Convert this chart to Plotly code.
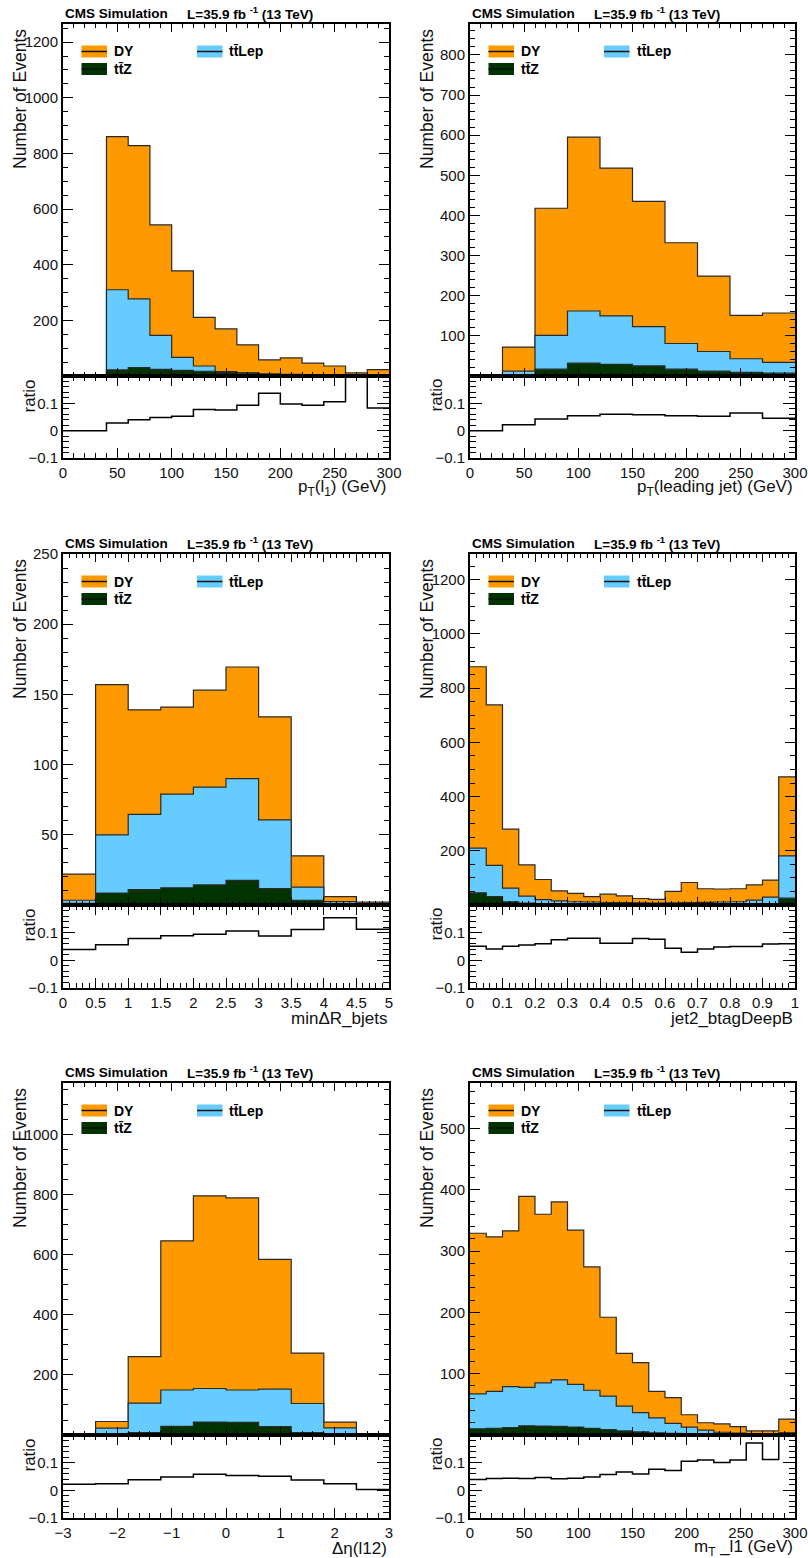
import plotly.graph_objects as go

# ---------------- data ----------------
# Panel 1: pT(l1)
p1_edges = [0, 20, 40, 60, 80, 100, 120, 140, 160, 180, 200, 220, 240, 260, 280, 300]
p1_total = [0, 0, 860, 828, 543, 378, 211, 169, 112, 58, 65, 46, 36, 11, 23]
p1_ttlep_ttz = [0, 0, 310, 277, 146, 67, 36, 16, 11, 7, 6, 5, 4, 2, 3]
p1_ttz = [0, 0, 22, 30, 24, 20, 17, 12, 10, 7, 5, 4, 3, 1, 2]
p1_ratio = [0, 0, 0.028, 0.040, 0.048, 0.053, 0.077, 0.076, 0.093, 0.137, 0.098, 0.093, 0.106, 0.35, 0.083]

# Panel 2: pT(leading jet)
p2_edges = [0, 30, 60, 90, 120, 150, 180, 210, 240, 270, 300]
p2_total = [0, 72, 418, 595, 518, 435, 332, 249, 151, 157]
p2_ttlep_ttz = [0, 12, 101, 162, 150, 123, 81, 61, 43, 34]
p2_ttz = [0, 2, 17, 32, 29, 25, 17, 12, 9, 7]
p2_ratio = [0, 0.022, 0.043, 0.055, 0.060, 0.058, 0.055, 0.053, 0.065, 0.045]

# Panel 3: min dR bjets
p3_edges = [0, 0.5, 1.0, 1.5, 2.0, 2.5, 3.0, 3.5, 4.0, 4.5, 5.0]
p3_total = [22, 157, 139, 141, 153, 169.5, 134, 35, 6, 2]
p3_ttlep_ttz = [3.4, 50, 64.5, 79, 84, 90, 60.6, 12.8, 2.4, 0.7]
p3_ttz = [1.2, 8.5, 10.9, 12.3, 14.3, 17.6, 11.6, 3.4, 1.0, 0.3]
p3_ratio = [0.039, 0.056, 0.079, 0.089, 0.094, 0.106, 0.088, 0.111, 0.154, 0.112]

# Panel 4: jet2_btagDeepB
p4_edges = [0, 0.05, 0.1, 0.15, 0.2, 0.25, 0.3, 0.35, 0.4, 0.45, 0.5,
            0.55, 0.6, 0.65, 0.7, 0.75, 0.8, 0.85, 0.9, 0.95, 1.0]
p4_total = [879, 738, 280, 148, 94, 52, 43, 31, 40, 34, 24, 21, 50, 83, 60, 59, 60, 74, 92, 473]
p4_ttlep_ttz = [210, 146, 62, 33, 20, 15, 12, 11, 9, 9, 8, 7, 8, 9, 10, 11, 12, 18, 29, 181]
p4_ttz = [45, 31, 12, 7, 5, 4, 3, 3, 2, 2, 2, 2, 1, 1, 1, 1, 2, 2, 5, 25]
p4_ratio = [0.051, 0.041, 0.051, 0.055, 0.060, 0.074, 0.080, 0.080, 0.062, 0.062,
            0.079, 0.076, 0.044, 0.029, 0.041, 0.048, 0.050, 0.050, 0.059, 0.060]

# Panel 5: delta eta(l12)
p5_edges = [-3.0, -2.4, -1.8, -1.2, -0.6, 0.0, 0.6, 1.2, 1.8, 2.4, 3.0]
p5_total = [0, 45, 261, 647, 797, 790, 585, 273, 43, 0]
p5_ttlep_ttz = [0, 23, 106, 150, 155, 150, 153, 105, 24, 0]
p5_ttz = [0, 1, 8, 29, 43, 42, 28, 8, 1, 0]
p5_ratio = [0.022, 0.024, 0.038, 0.048, 0.058, 0.054, 0.051, 0.037, 0.024, 0.003]

# Panel 6: mT_l1
p6_edges = [0, 15, 30, 45, 60, 75, 90, 105, 120, 135, 150, 165, 180, 195, 210,
            225, 240, 255, 270, 285, 300]
p6_total = [329, 323, 333, 389, 360, 380, 334, 274, 192, 133, 118, 71, 61, 33, 20, 18, 13.5, 6.7, 6.7, 26]
p6_ttlep_ttz = [67, 71, 79, 77.5, 85, 90, 82.6, 73, 63.5, 47, 36.5, 28, 19, 13, 8, 4.5, 3, 1.7, 1.1, 3.4]
p6_ttz = [10, 11, 12, 15, 14.6, 14, 13, 10.7, 9, 6.7, 5, 3.4, 2.8, 2.2, 2, 1.5, 1.2, 1, 0.7, 3]
p6_ratio = [0.039, 0.043, 0.044, 0.043, 0.046, 0.042, 0.044, 0.048, 0.057, 0.066,
            0.059, 0.076, 0.072, 0.105, 0.110, 0.101, 0.110, 0.171, 0.111, 0.35]

x_titles = ["p<sub>T</sub>(l<sub>1</sub>) (GeV)", "p<sub>T</sub>(leading jet) (GeV)",
            "minΔR_bjets", "jet2_btagDeepB", "Δη(l12)", "m<sub>T</sub> _l1 (GeV)"]
legend_labels = ["DY", "tt\u0304Lep", "tt\u0304Z"]

# ---------------- styling / layout ----------------
W, H = 808, 1558
FONT = "Liberation Sans, Arial, Helvetica, sans-serif"
C_DY, C_TTLEP, C_TTZ = "#FF9900", "#66CCFF", "#003300"
OUTLINE = "#2a2a2a"

cols = [(63, 389), (470, 795)]
rows = [(24, 376, 458), (554, 905, 988), (1083, 1435, 1518)]

cfg = [
    dict(e=p1_edges, t=p1_total, l=p1_ttlep_ttz, z=p1_ttz, r=p1_ratio, ymax=1265,
         yt=[200, 400, 600, 800, 1000, 1200], ymin=50, xr=[0, 300], xd=50, xm=10, x0=0),
    dict(e=p2_edges, t=p2_total, l=p2_ttlep_ttz, z=p2_ttz, r=p2_ratio, ymax=877,
         yt=[100, 200, 300, 400, 500, 600, 700, 800], ymin=20, xr=[0, 300], xd=50, xm=10, x0=0),
    dict(e=p3_edges, t=p3_total, l=p3_ttlep_ttz, z=p3_ttz, r=p3_ratio, ymax=250,
         yt=[50, 100, 150, 200, 250], ymin=10, xr=[0, 5], xd=0.5, xm=0.1, x0=0),
    dict(e=p4_edges, t=p4_total, l=p4_ttlep_ttz, z=p4_ttz, r=p4_ratio, ymax=1295,
         yt=[200, 400, 600, 800, 1000, 1200], ymin=50, xr=[0, 1], xd=0.1, xm=0.02, x0=0),
    dict(e=p5_edges, t=p5_total, l=p5_ttlep_ttz, z=p5_ttz, r=p5_ratio, ymax=1173,
         yt=[200, 400, 600, 800, 1000], ymin=50, xr=[-3, 3], xd=1, xm=0.2, x0=-3),
    dict(e=p6_edges, t=p6_total, l=p6_ttlep_ttz, z=p6_ttz, r=p6_ratio, ymax=574,
         yt=[100, 200, 300, 400, 500], ymin=20, xr=[0, 300], xd=50, xm=10, x0=0),
]


def fx(p):
    return p / W


def fy(p):
    return 1 - p / H


fig = go.Figure()
layout = dict(template="none", width=W, height=H,
              margin=dict(l=0, r=0, t=0, b=0, pad=0, autoexpand=False),
              paper_bgcolor="white", plot_bgcolor="white", showlegend=False,
              font=dict(family=FONT, color="black"))
annotations = []
shapes = []
tickfont = dict(family=FONT, size=15, color="#111111")

for i, c in enumerate(cfg):
    col = cols[i % 2]
    row = rows[i // 2]
    L, R = col
    T, M, B = row
    im, ir = 2 * i + 1, 2 * i + 2
    xm_name, xr_name = f"x{im}", f"x{ir}"
    ym_name, yr_name = f"y{im}", f"y{ir}"

    edges = c["e"]
    for vals, color in ((c["t"], C_DY), (c["l"], C_TTLEP), (c["z"], C_TTZ)):
        fig.add_trace(go.Scatter(
            x=edges, y=list(vals) + [vals[-1]], mode="lines",
            line=dict(shape="hv", color=OUTLINE, width=1.2),
            fill="tozeroy", fillcolor=color, hoverinfo="skip",
            xaxis=xm_name, yaxis=ym_name))
    fig.add_trace(go.Scatter(
        x=edges, y=list(c["r"]) + [c["r"][-1]], mode="lines",
        line=dict(shape="hv", color="black", width=1.5), hoverinfo="skip",
        xaxis=xr_name, yaxis=yr_name))

    common = dict(showgrid=False, zeroline=False, showline=True, linewidth=2,
                  linecolor="black", mirror="allticks", ticks="inside",
                  tickcolor="black", tickwidth=1, automargin=False,
                  ticklabeloverflow="allow")
    layout[f"xaxis{im}"] = dict(common, domain=[fx(L), fx(R)], anchor=ym_name,
                                range=c["xr"], tick0=c["x0"], dtick=c["xd"], ticklen=8,
                                showticklabels=False,
                                minor=dict(ticks="inside", ticklen=4, tick0=c["x0"],
                                           dtick=c["xm"], tickcolor="black", showgrid=False))
    layout[f"yaxis{im}"] = dict(common, domain=[fy(M), fy(T)], anchor=xm_name,
                                range=[0, c["ymax"]], tickmode="array", tickvals=c["yt"],
                                ticklen=10, tickfont=tickfont,
                                minor=dict(ticks="inside", ticklen=5, tickmode="linear",
                                           tick0=0, dtick=c["ymin"], tickcolor="black",
                                           showgrid=False))
    layout[f"xaxis{ir}"] = dict(common, domain=[fx(L), fx(R)], anchor=yr_name,
                                range=c["xr"], tick0=c["x0"], dtick=c["xd"], ticklen=10,
                                tickfont=tickfont,
                                minor=dict(ticks="inside", ticklen=5, tick0=c["x0"],
                                           dtick=c["xm"], tickcolor="black", showgrid=False))
    layout[f"yaxis{ir}"] = dict(common, domain=[fy(B), fy(M)], anchor=xr_name,
                                range=[-0.1, 0.2], tickmode="array",
                                tickvals=[-0.1, 0, 0.1], ticktext=["\u22120.1", "0", "0.1"],
                                ticklen=12, tickfont=tickfont,
                                minor=dict(ticks="inside", ticklen=6, tickmode="linear",
                                           tick0=0, dtick=0.02, tickcolor="black",
                                           showgrid=False))

    # header
    annotations.append(dict(x=fx(L), y=fy(T - 11), xref="paper", yref="paper",
                            text="<b>CMS Simulation</b>", showarrow=False,
                            xanchor="left", yanchor="middle",
                            font=dict(family=FONT, size=13.5, color="black")))
    annotations.append(dict(x=fx(L + 122), y=fy(T - 11), xref="paper", yref="paper",
                            text="<b>L=35.9 fb <sup>-1</sup> (13 TeV)</b>", showarrow=False,
                            xanchor="left", yanchor="middle",
                            font=dict(family=FONT, size=13.5, color="black")))
    # axis titles
    annotations.append(dict(x=fx(L - 43), y=fy(T + 3), xref="paper", yref="paper",
                            text="Number of Events", textangle=-90, showarrow=False,
                            xanchor="center", yanchor="top",
                            font=dict(family=FONT, size=17.5, color="#111111")))
    annotations.append(dict(x=fx(L - 34), y=fy(M + 1), xref="paper", yref="paper",
                            text="ratio", textangle=-90, showarrow=False,
                            xanchor="center", yanchor="top",
                            font=dict(family=FONT, size=17, color="#111111")))
    annotations.append(dict(x=fx(R), y=fy(B + 30), xref="paper", yref="paper",
                            text=x_titles[i], showarrow=False,
                            xanchor="right", yanchor="middle",
                            font=dict(family=FONT, size=17, color="#111111")))

    # legend
    entries = [(legend_labels[0], C_DY, L + 18.5, T + 21.5),
               (legend_labels[1], C_TTLEP, L + 134, T + 21.5),
               (legend_labels[2], C_TTZ, L + 18.5, T + 39)]
    for lab, colr, bx, by in entries:
        shapes.append(dict(type="rect", xref="paper", yref="paper",
                           x0=fx(bx), x1=fx(bx + 25.5), y0=fy(by + 12), y1=fy(by),
                           fillcolor=colr, line=dict(width=0)))
        shapes.append(dict(type="line", xref="paper", yref="paper",
                           x0=fx(bx), x1=fx(bx + 25.5), y0=fy(by + 6), y1=fy(by + 6),
                           line=dict(color="#111111", width=1.5)))
        annotations.append(dict(x=fx(bx + 30.5), y=fy(by + 6), xref="paper", yref="paper",
                                text=f"<b>{lab}</b>", showarrow=False,
                                xanchor="left", yanchor="middle",
                                font=dict(family=FONT, size=14, color="black")))

layout["annotations"] = annotations
layout["shapes"] = shapes
fig.update_layout(**layout)
fig.write_html("out.html")
